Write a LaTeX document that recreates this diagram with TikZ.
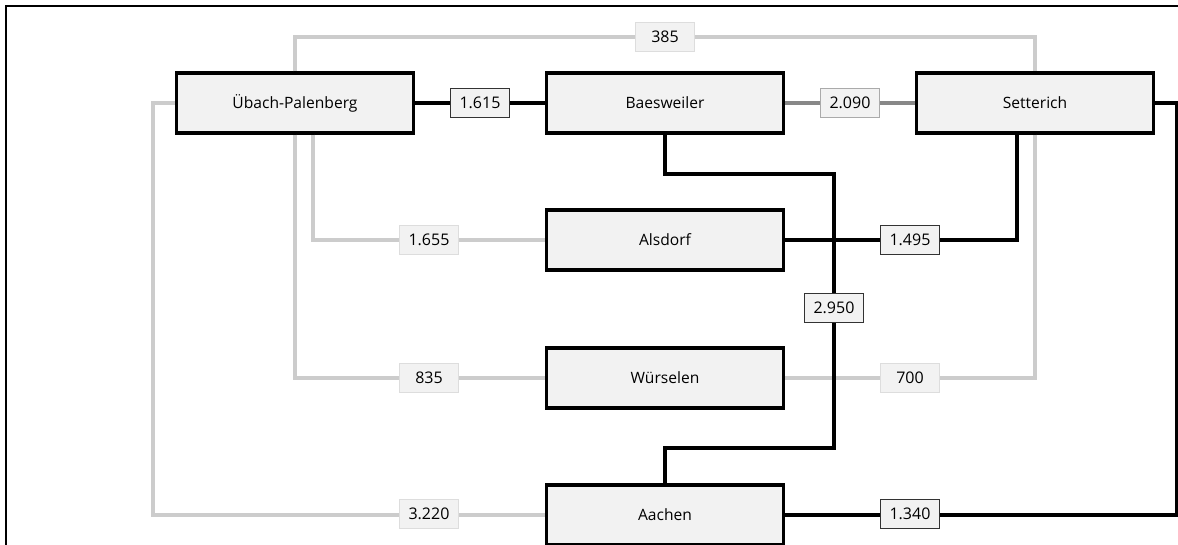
\documentclass[tikz,border=0pt]{standalone}
\usepackage{fontspec}
\setmainfont{Open Sans}
\usepackage{xcolor}
\usepackage{tikz}
\usetikzlibrary{positioning,calc}
\definecolor{boxfill}{HTML}{F2F2F2}
\definecolor{lightline}{HTML}{CCCCCC}
\definecolor{lightedge}{HTML}{DDDDDD}
\definecolor{midline}{HTML}{888888}
\definecolor{midedge}{HTML}{AAAAAA}
\tikzset{
  town/.style   = {draw, line width=2.3pt, fill=boxfill, rectangle,
                   minimum width=178pt, minimum height=45pt, inner sep=0pt,
                   font=\fontsize{11.7}{13}\selectfont},
  dist/.style   = {draw, line width=1pt, fill=boxfill, rectangle,
                   minimum width=44pt, minimum height=22pt, inner sep=0pt,
                   font=\fontsize{12}{13}\selectfont},
  distlight/.style = {dist, draw=lightedge},
  distmid/.style   = {dist, draw=midedge},
  distdark/.style  = {dist, draw=black!80},
  road/.style   = {line width=2.3pt, black},
  roadlight/.style = {line width=2.3pt, lightline},
  roadmid/.style   = {line width=2.3pt, midline}
}
\begin{document}
\begin{tikzpicture}[x=0.75pt,y=-0.75pt]
    \useasboundingbox (0,0) rectangle (1178,545);
    \draw[line width=2pt] (6,560) -- (6,6) -- (1190,6);
    % towns
    \node[town] (ub) at (295,103) {Übach-Palenberg};
    \node[town] (bw) at (665,103) {Baesweiler};
    \node[town] (st) at (1035,103) {Setterich};
    \node[town] (al) at (665,240) {Alsdorf};
    \node[town] (wu) at (665,378) {Würselen};
    \node[town] (aa) at (665,515) {Aachen};
    % bends
    \coordinate (top) at (665,37);
    \coordinate (w1) at (153,514);
    \coordinate (e1) at (1177,514);
    \coordinate (k1) at (834,174);
    \coordinate (k2) at (834,448);
    % grey roads
    \draw[roadlight] (ub.north) |- (top) -| (st.north);
    \draw[roadlight] ($(ub.south)+(18,0)$) |- (al.west);
    \draw[roadlight] (ub.south) |- (wu.west);
    \draw[roadlight] (ub.west) -| (w1) |- (aa.west);
    \draw[roadlight] (st.south) |- (wu.east);
    \draw[roadmid] (bw) -- (st);
    % black roads
    \draw[road] (ub) -- (bw);
    \draw[road] ($(st.south)+(-18,0)$) |- (al.east);
    \draw[road] (bw.south) |- (k1) -- (k2) -| (aa.north);
    \draw[road] (st.east) -| (e1) |- (aa.east);
    % distances
    \node[distlight] (d385) at (top) {385};
    \node[distdark] (d1615) at (480,103) {1.615};
    \node[distmid] (d2090) at (850,103) {2.090};
    \node[distlight] (d1655) at (429,240) {1.655};
    \node[distdark] (d1495) at (910,240) {1.495};
    \node[distdark] (d2950) at (834,308) {2.950};
    \node[distlight] (d835) at (429,378) {835};
    \node[distlight] (d700) at (910,378) {700};
    \node[distlight] (d3220) at (429,514) {3.220};
    \node[distdark] (d1340) at (910,514) {1.340};
\end{tikzpicture}
\end{document}
